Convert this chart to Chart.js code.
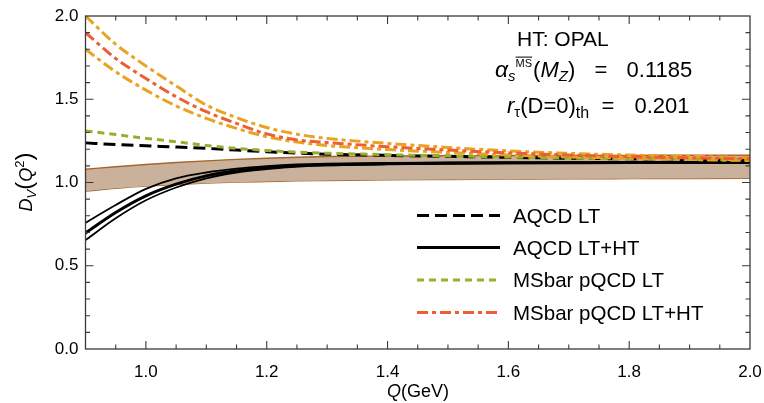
<!DOCTYPE html>
<html>
<head>
<meta charset="utf-8">
<script src="https://cdn.jsdelivr.net/npm/chart.js@4.4.1/dist/chart.umd.min.js"></script>
<style>
html,body{margin:0;padding:0;background:#fff;}
#wrap{position:relative;width:764px;height:403px;}
</style>
</head>
<body>
<div id="wrap"><canvas id="c" width="764" height="403"></canvas></div>
<script>
// ---- data ----
const Q           = [0.90, 0.95, 1.00, 1.05, 1.10, 1.15, 1.20, 1.25, 1.30, 1.40, 1.50, 1.60, 1.70, 1.80, 1.90, 2.00];
const BAND_HI     = [1.080,1.095,1.108,1.120,1.130,1.139,1.146,1.152,1.156,1.159,1.161,1.162,1.163,1.163,1.164,1.164];
const BAND_LO     = [0.948,0.965,0.978,0.988,0.996,1.002,1.006,1.010,1.012,1.016,1.018,1.020,1.022,1.023,1.024,1.025];
const AQCD_LT     = [1.238,1.228,1.220,1.213,1.205,1.195,1.185,1.176,1.170,1.163,1.157,1.151,1.146,1.142,1.138,1.135];
const AQCD_HT_HI  = [0.758,0.865,0.962,1.025,1.060,1.083,1.098,1.108,1.113,1.118,1.120,1.121,1.122,1.122,1.123,1.123];
const AQCD_HT     = [0.697,0.820,0.920,0.990,1.040,1.070,1.088,1.101,1.107,1.113,1.116,1.118,1.119,1.120,1.120,1.120];
const AQCD_HT_LO  = [0.654,0.785,0.893,0.970,1.025,1.060,1.080,1.095,1.103,1.110,1.113,1.115,1.116,1.116,1.117,1.117];
const MS_LT       = [1.310,1.288,1.265,1.245,1.222,1.205,1.192,1.183,1.176,1.167,1.160,1.153,1.147,1.142,1.138,1.135];
const MS_HT_HI    = [2.000,1.830,1.700,1.580,1.465,1.390,1.330,1.290,1.265,1.235,1.210,1.190,1.175,1.165,1.157,1.150];
const MS_HT       = [1.900,1.745,1.625,1.515,1.425,1.355,1.292,1.256,1.240,1.215,1.195,1.178,1.165,1.155,1.148,1.142];
const MS_HT_LO    = [1.800,1.665,1.555,1.460,1.385,1.325,1.275,1.243,1.222,1.198,1.180,1.165,1.153,1.145,1.138,1.132];
const X_TICKS     = [1.0, 1.2, 1.4, 1.6, 1.8, 2.0];
const Y_TICKS     = [0.0, 0.5, 1.0, 1.5, 2.0];
const LEGEND_LABELS = ['AQCD LT', 'AQCD LT+HT', 'MSbar pQCD LT', 'MSbar pQCD LT+HT'];

// ---- styles ----
const FONT = '"Liberation Sans", Arial, Helvetica, sans-serif';
const C_BLACK = '#000000', C_GREEN = '#9aae2e', C_RED = '#ef5d33', C_ORANGE = '#e9a221';
const C_BAND = '#cab19b', C_BANDEDGE = '#a5652c';
const DASH_BLACK = [12, 6], DASH_GREEN = [7, 5], DASH_DOT = [11, 4, 4, 4];

const pts = arr => Q.map((q, i) => ({x: q, y: arr[i]}));
function ds(arr, color, width, dash, extra) {
  return Object.assign({data: pts(arr), borderColor: color, borderWidth: width, borderDash: dash || [],
    pointRadius: 0, fill: false, cubicInterpolationMode: 'monotone', borderCapStyle: 'butt'}, extra || {});
}

// index 0 is drawn on top, last index at the bottom
const datasets = [
  ds(MS_HT, C_RED, 3, DASH_DOT),
  ds(MS_HT_HI, C_ORANGE, 3, DASH_DOT),
  ds(MS_HT_LO, C_ORANGE, 3, DASH_DOT),
  ds(MS_LT, C_GREEN, 3, DASH_GREEN),
  ds(AQCD_LT, C_BLACK, 3, DASH_BLACK),
  ds(AQCD_HT, C_BLACK, 3),
  ds(AQCD_HT_LO, C_BLACK, 1.8),
  ds(AQCD_HT_HI, C_BLACK, 1.8),
  ds(BAND_HI, C_BANDEDGE, 1.4, [], {fill: '+1', backgroundColor: C_BAND}),
  ds(BAND_LO, C_BANDEDGE, 1.4, []),
];

function drawRich(ctx, x, y, parts, size) {
  let cx = x;
  parts.forEach(p => {
    const s = p.size || size;
    ctx.font = (p.it ? 'italic ' : '') + s + 'px ' + FONT;
    const w = ctx.measureText(p.t).width;
    ctx.fillText(p.t, cx, y + (p.dy || 0));
    if (p.over) {
      ctx.save(); ctx.lineWidth = 1; ctx.strokeStyle = '#000';
      ctx.beginPath(); ctx.moveTo(cx, y + (p.dy || 0) - s * 0.9); ctx.lineTo(cx + w, y + (p.dy || 0) - s * 0.9); ctx.stroke();
      ctx.restore();
    }
    cx += w + (p.gap || 0);
  });
  return cx - x;
}
function richWidth(ctx, parts, size) {
  let w = 0;
  parts.forEach(p => { ctx.font = (p.it ? 'italic ' : '') + (p.size || size) + 'px ' + FONT; w += ctx.measureText(p.t).width + (p.gap || 0); });
  return w;
}

const framePlugin = {
  id: 'frame',
  afterDatasetsDraw(chart) {
    const {ctx, chartArea: a, scales: {x, y}} = chart;
    ctx.save();
    ctx.strokeStyle = '#3a3a3a'; ctx.lineWidth = 1.3; ctx.setLineDash([]);
    ctx.strokeRect(a.left, a.top, a.right - a.left, a.bottom - a.top);
    ctx.lineWidth = 1.1;
    ctx.beginPath();
    for (let k = 18; k <= 40; k++) {
      const v = k * 0.05, px = x.getPixelForValue(v);
      if (px < a.left + 0.5 || px > a.right - 0.5) continue;
      const major = X_TICKS.some(t => Math.abs(t - v) < 1e-6);
      const L = major ? 8 : 4.5;
      ctx.moveTo(px, a.bottom); ctx.lineTo(px, a.bottom - L);
      ctx.moveTo(px, a.top); ctx.lineTo(px, a.top + L);
    }
    for (let k = 0; k <= 20; k++) {
      const v = k * 0.1, py = y.getPixelForValue(v);
      if (py < a.top + 0.5 || py > a.bottom - 0.5) continue;
      const major = Y_TICKS.some(t => Math.abs(t - v) < 1e-6);
      const L = major ? 8 : 4.5;
      ctx.moveTo(a.left, py); ctx.lineTo(a.left + L, py);
      ctx.moveTo(a.right, py); ctx.lineTo(a.right - L, py);
    }
    ctx.stroke();
    ctx.restore();
  },
  afterDraw(chart) {
    const {ctx} = chart;
    ctx.save();
    ctx.fillStyle = '#000'; ctx.textBaseline = 'alphabetic'; ctx.textAlign = 'left';
    // annotations
    drawRich(ctx, 517, 46, [{t: 'HT: OPAL'}], 21);
    drawRich(ctx, 495, 77, [
      {t: 'α', it: true, size: 23}, {t: 's', it: true, size: 15, dy: 4},
      {t: 'MS', size: 11, dy: -10, over: true, gap: 1},
      {t: '(', size: 22}, {t: 'M', it: true, size: 22}, {t: 'Z', it: true, size: 15, dy: 4},
      {t: ')', size: 22, gap: 7}, {t: '  =  ', size: 22, gap: 7}, {t: '0.1185', size: 22}], 22);
    drawRich(ctx, 507, 113, [
      {t: 'r', it: true, size: 22}, {t: 'τ', size: 15, dy: 4},
      {t: '(D=0)', size: 22}, {t: 'th', size: 16, dy: 5},
      {t: '  =  ', size: 22, gap: 8}, {t: '0.201', size: 22}], 22);
    // legend
    const rows = [215.5, 247.5, 280, 312.5];
    const styles = [
      {c: C_BLACK, w: 3.2, d: DASH_BLACK},
      {c: C_BLACK, w: 3, d: []},
      {c: C_GREEN, w: 2.8, d: DASH_GREEN},
      {c: C_RED, w: 2.8, d: DASH_DOT}];
    LEGEND_LABELS.forEach((lab, i) => {
      const st = styles[i];
      ctx.save();
      ctx.strokeStyle = st.c; ctx.lineWidth = st.w; ctx.setLineDash(st.d); ctx.lineCap = 'butt';
      ctx.beginPath(); ctx.moveTo(417, rows[i]); ctx.lineTo(500, rows[i]); ctx.stroke();
      ctx.restore();
      ctx.font = '20.5px ' + FONT;
      ctx.fillText(lab, 513, rows[i] + 7);
    });
    // x axis title
    const xt = [{t: 'Q', it: true}, {t: '(GeV)'}];
    const wx = richWidth(ctx, xt, 18);
    drawRich(ctx, 418 - wx / 2, 397, xt, 18);
    // y axis title (rotated)
    ctx.translate(32, 182);
    ctx.rotate(-Math.PI / 2);
    const yt = [{t: 'D', it: true, size: 18}, {t: 'V', it: true, size: 13, dy: 4},
                {t: '(', size: 24}, {t: 'Q', it: true, size: 18}, {t: '2', size: 13, dy: -8}, {t: ')', size: 24}];
    const wy = richWidth(ctx, yt, 18);
    drawRich(ctx, -wy / 2, 0, yt, 18);
    ctx.restore();
  }
};

new Chart(document.getElementById('c'), {
  type: 'line',
  data: {datasets},
  plugins: [framePlugin],
  options: {
    responsive: false, animation: false, devicePixelRatio: 1,
    layout: {padding: {left: 0, right: 14, top: 16, bottom: 0}},
    plugins: {legend: {display: false}, tooltip: {enabled: false}},
    elements: {line: {tension: 0}},
    scales: {
      x: {
        type: 'linear', min: 0.9, max: 2.0,
        grid: {display: false, drawTicks: false},
        border: {display: false},
        afterBuildTicks: s => { s.ticks = X_TICKS.map(v => ({value: v})); },
        afterFit: s => { s.height = 54; s.paddingLeft = 0; s.paddingRight = 0; },
        ticks: {padding: 13, color: '#000', font: {size: 17, family: FONT},
                maxRotation: 0, autoSkip: false, callback: v => Number(v).toFixed(1)}
      },
      y: {
        type: 'linear', min: 0, max: 2.0,
        grid: {display: false, drawTicks: false},
        border: {display: false},
        afterBuildTicks: s => { s.ticks = Y_TICKS.map(v => ({value: v})); },
        afterFit: s => { s.width = 85.5; s.paddingTop = 0; s.paddingBottom = 0; },
        ticks: {padding: 7, color: '#000', font: {size: 17, family: FONT},
                callback: v => Number(v).toFixed(1)}
      }
    }
  }
});
</script>
</body>
</html>
